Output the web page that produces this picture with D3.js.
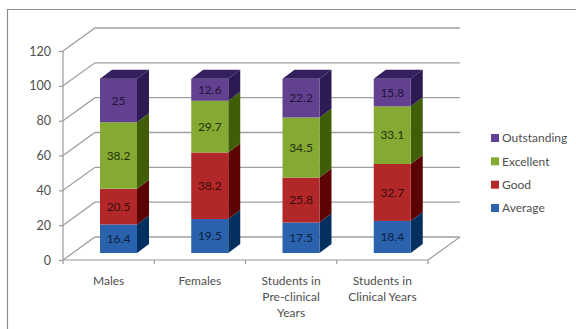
<!DOCTYPE html>
<html>
<head>
<meta charset="utf-8">
<script src="https://cdnjs.cloudflare.com/ajax/libs/d3/7.8.5/d3.min.js"></script>
<style>
  html, body { margin: 0; padding: 0; background: #fff; }
  svg { display: block; }
  text { font-family: Lato, "Open Sans", sans-serif; }
</style>
</head>
<body>
<svg id="chart" width="576" height="329"></svg>
<script>
const categories = ["Males", "Females", "Students in Pre-clinical Years", "Students in Clinical Years"];
const categoryLines = [["Males"], ["Females"], ["Students in", "Pre-clinical", "Years"], ["Students in", "Clinical Years"]];
const seriesNames = ["Average", "Good", "Excellent", "Outstanding"];
const average = [16.4, 19.5, 17.5, 18.4];
const good = [20.5, 38.2, 25.8, 32.7];
const excellent = [38.2, 29.7, 34.5, 33.1];
const outstanding = [25, 12.6, 22.2, 15.8];
const yTicks = [0, 20, 40, 60, 80, 100, 120];

const frontColors = ["#2a62ae", "#b22727", "#85aa33", "#634191"];
const sideColors = ["#04305f", "#5c0303", "#405e08", "#2d1a52"];
const topColors = ["#04305f", "#5c0303", "#405e08", "#35205f"];
const labelColors = ["#0c2240", "#3a0c0c", "#24330a", "#241436"];

const svg = d3.select("#chart");
const values = [average, good, excellent, outstanding];

// Plot box: front floor edge and the offset of the back wall
const x = d3.scaleBand().domain(categories).range([63, 428]);
const y = d3.scaleLinear().domain([0, 120]).range([260, 51]);
const wallDx = 32, wallDy = 23;
const barW = 37, barInset = 37, barLift = 7;
const depthDx = 12, depthDy = 9;

// Outer chart frame
svg.append("path")
  .attr("d", "M7.5,329V9.5H576")
  .attr("fill", "none").attr("stroke", "#8c8c8c").attr("stroke-width", 1.2);

// Wall gridlines running along the side and across the back
const grid = svg.append("g").attr("fill", "none").attr("stroke", "#a0a0a0").attr("stroke-width", 1.3);
yTicks.forEach(t => {
  const py = y(t);
  grid.append("path").attr("d", `M63,${py}L${63 + wallDx},${py - wallDy}H${428 + wallDx}`);
});
grid.append("path").attr("d", `M428,260L${428 + wallDx},${260 - wallDy}`);

// Value axis
const yAxis = svg.append("g").attr("transform", "translate(63,0)")
  .call(d3.axisLeft(y).tickValues(yTicks).tickSize(4).tickPadding(8));
yAxis.selectAll("line, path").attr("stroke", "#9a9a9a").attr("stroke-width", 1.2);
yAxis.selectAll("text").attr("fill", "#4f4f4f").attr("font-size", 12.5);
yAxis.select(".domain").attr("d", `M0,${y(120)}V${y(0)}`);

// Category axis: ticks mark the band edges, labels sit under each band
const xAxis = svg.append("g").attr("transform", "translate(0,260)");
xAxis.append("line").attr("x1", 63).attr("x2", 428).attr("stroke", "#9a9a9a").attr("stroke-width", 1.2);
xAxis.selectAll(".edge").data(categories.concat("end")).join("line")
  .attr("class", "edge")
  .attr("x1", (d, i) => 63 + i * x.step()).attr("x2", (d, i) => 63 + i * x.step())
  .attr("y1", 0).attr("y2", 4)
  .attr("stroke", "#9a9a9a").attr("stroke-width", 1.2);

categories.forEach((c, i) => {
  const t = svg.append("text")
    .attr("text-anchor", "middle").attr("fill", "#4f4f4f").attr("font-size", 12);
  categoryLines[i].forEach((line, k) => {
    t.append("tspan").attr("x", x(c) + x.bandwidth() / 2).attr("y", 285 + k * 16).text(line);
  });
});

// Stacked columns, built from the bottom segment upward
const stack = d3.stack().keys(d3.range(seriesNames.length)).value((d, k) => values[k][d]);
const layers = stack(d3.range(categories.length));

layers.forEach((layer, s) => {
  layer.forEach((seg, i) => {
    const x0 = x(categories[i]) + barInset;
    const x1 = x0 + barW;
    const yb = y(seg[0]) - barLift;
    const yt = y(seg[1]) - barLift;
    const g = svg.append("g");
    g.append("path")
      .attr("d", `M${x1},${yb}L${x1 + depthDx},${yb - depthDy}V${yt - depthDy}L${x1},${yt}Z`)
      .attr("fill", sideColors[s]);
    g.append("rect")
      .attr("x", x0).attr("y", yt).attr("width", barW).attr("height", yb - yt)
      .attr("fill", frontColors[s]);
    if (s === layers.length - 1) {
      g.append("path")
        .attr("d", `M${x0},${yt}L${x0 + depthDx},${yt - depthDy}H${x1 + depthDx}L${x1},${yt}Z`)
        .attr("fill", topColors[s]);
    }
    g.append("text")
      .attr("x", (x0 + x1) / 2).attr("y", (yb + yt) / 2)
      .attr("dy", "0.35em").attr("text-anchor", "middle")
      .attr("font-size", 12).attr("fill", labelColors[s])
      .text(values[s][i]);
  });
});

// Legend, listed top to bottom in reverse stacking order
const legendRow = d3.scalePoint().domain(d3.range(seriesNames.length).reverse()).range([138, 208]);
const legend = svg.append("g");
seriesNames.forEach((name, s) => {
  legend.append("rect")
    .attr("x", 491).attr("y", legendRow(s) - 4).attr("width", 8).attr("height", 8)
    .attr("fill", frontColors[s]);
  legend.append("text")
    .attr("x", 502).attr("y", legendRow(s)).attr("dy", "0.35em")
    .attr("font-size", 12).attr("fill", "#4f4f4f").text(name);
});
</script>
</body>
</html>
